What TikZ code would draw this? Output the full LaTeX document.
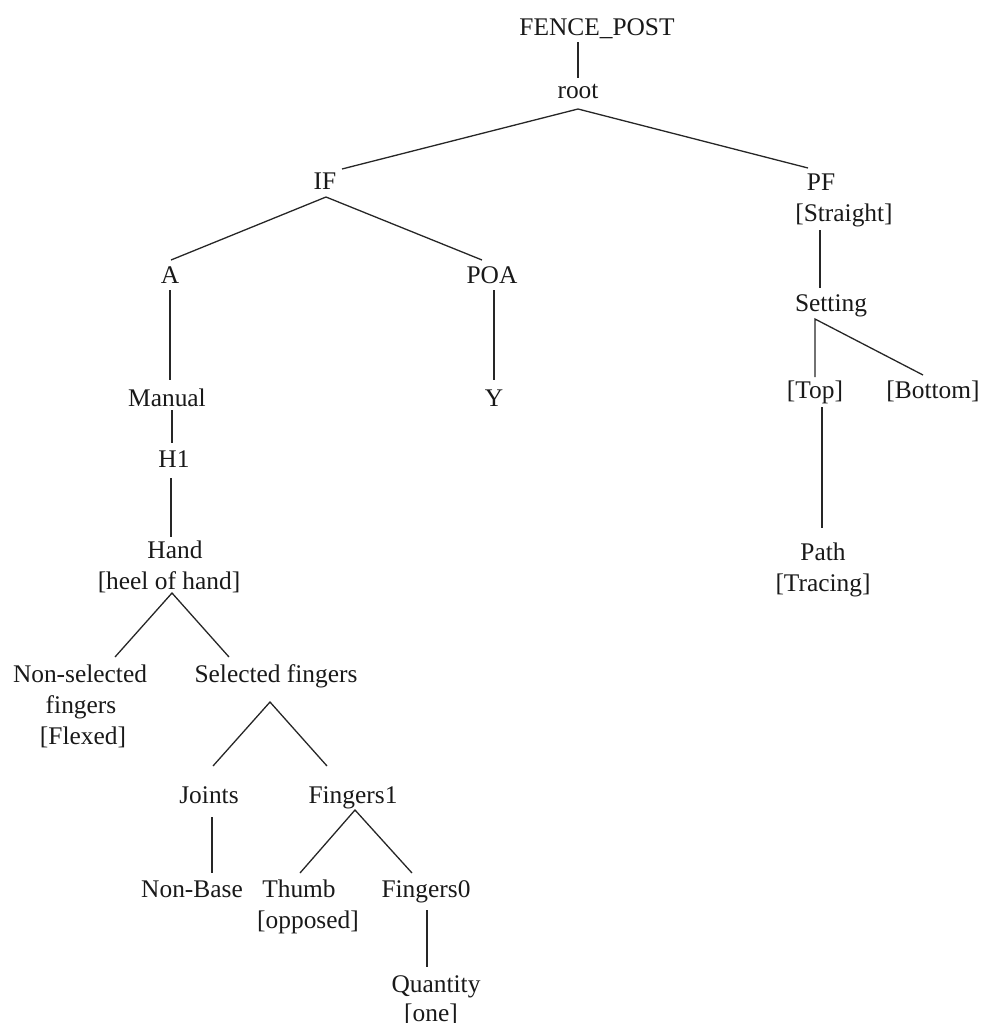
\documentclass[tikz,border=0pt]{standalone}
\usepackage{fontspec}
\setmainfont{Liberation Serif}
\begin{document}
\begin{tikzpicture}[x=1pt,y=-1pt,
  lbl/.style={inner sep=0pt, anchor=base, text=black!90,
    font=\fontsize{25.4}{30}\selectfont},
  edge/.style={line width=1.3pt, draw=black!85}]
\useasboundingbox (0,0) rectangle (981,1023);

% upper levels
\node[lbl] (fp) at (597,35) {FENCE\_POST};
\node[lbl] (root) at (578,98) {root};
\node[lbl] (if) at (325,189) {IF};
\node[lbl] (pf) at (821,190) {PF};
\node[lbl] (pfv) at (844,221) {[Straight]};
\node[lbl] (a) at (170,283) {A};
\node[lbl] (poa) at (492,283) {POA};
\node[lbl] (manual) at (167,406) {Manual};
\node[lbl] (y) at (494,406) {Y};
\node[lbl] (h1) at (174,467) {H1};
\node[lbl] (hand) at (175,558) {Hand};
\node[lbl] (handv) at (169,589) {[heel of hand]};

% finger branch
\node[lbl] (ns) at (80,682) {Non-selected};
\node[lbl] (ns2) at (81,713) {fingers};
\node[lbl] (ns3) at (83,744) {[Flexed]};
\node[lbl] (sel) at (276,682) {Selected fingers};
\node[lbl] (joints) at (209,803) {Joints};
\node[lbl] (f1) at (353,803) {Fingers1};
\node[lbl] (nb) at (192,897) {Non-Base};
\node[lbl] (thumb) at (299,897) {Thumb};
\node[lbl] (thumbv) at (308,928) {[opposed]};
\node[lbl] (f0) at (426,897) {Fingers0};
\node[lbl] (qty) at (436,992) {Quantity};
\node[lbl] (qtyv) at (431,1021) {[one]};

% movement branch
\node[lbl] (set) at (831,311) {Setting};
\node[lbl] (top) at (815,398) {[Top]};
\node[lbl] (bot) at (933,398) {[Bottom]};
\node[lbl] (path) at (823,560) {Path};
\node[lbl] (pathv) at (823,591) {[Tracing]};

% connectors
\draw[edge] ([shift={(-19,7)}]fp.base) -- ([shift={(0,-20)}]root.base);
\draw[edge] ([shift={(17,-20)}]if.base) -- ([shift={(0,11)}]root.base)
            -- ([shift={(-13,-22)}]pf.base);
\draw[edge] ([shift={(1,-23)}]a.base) -- ([shift={(1,8)}]if.base)
            -- ([shift={(-10,-23)}]poa.base);
\draw[edge] ([shift={(0,7)}]a.base) -- ([shift={(3,-26)}]manual.base);
\draw[edge] ([shift={(2,7)}]poa.base) -- ([shift={(0,-26)}]y.base);
\draw[edge] ([shift={(5,4)}]manual.base) -- ([shift={(-2,-24)}]h1.base);
\draw[edge] ([shift={(-3,11)}]h1.base) -- ([shift={(-4,-21)}]hand.base);
\draw[edge] ([shift={(35,-25)}]ns.base) -- ([shift={(3,4)}]handv.base)
            -- ([shift={(-47,-25)}]sel.base);
\draw[edge] ([shift={(4,-37)}]joints.base) -- ([shift={(-6,20)}]sel.base)
            -- ([shift={(-26,-37)}]f1.base);
\draw[edge] ([shift={(3,14)}]joints.base) -- ([shift={(20,-24)}]nb.base);
\draw[edge] ([shift={(1,-24)}]thumb.base) -- ([shift={(2,7)}]f1.base)
            -- ([shift={(-14,-24)}]f0.base);
\draw[edge] ([shift={(1,13)}]f0.base) -- ([shift={(-9,-25)}]qty.base);
\draw[edge] ([shift={(-24,9)}]pfv.base) -- ([shift={(-11,-23)}]set.base);
\draw[edge] ([shift={(0,-21)}]top.base) -- ([shift={(-16,8)}]set.base)
            -- ([shift={(-10,-23)}]bot.base);
\draw[edge] ([shift={(7,9)}]top.base) -- ([shift={(-1,-32)}]path.base);
\end{tikzpicture}
\end{document}
